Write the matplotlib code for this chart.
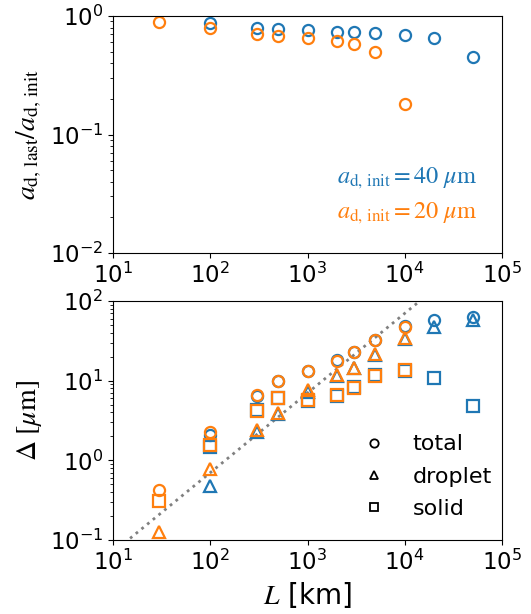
import numpy as np
import matplotlib
matplotlib.use("Agg")
import matplotlib.pyplot as plt
from matplotlib.ticker import NullLocator
from matplotlib.lines import Line2D

plt.rcParams["mathtext.fontset"] = "stix"

# Domain lengths L [km]
L_40 = [100, 300, 500, 1000, 2000, 3000, 5000, 10000, 20000, 50000]
L_20 = [30, 100, 300, 500, 1000, 2000, 3000, 5000, 10000]

# Final / initial droplet radius
ratio_40 = [0.878, 0.80, 0.78, 0.757, 0.737, 0.728, 0.719, 0.695, 0.648, 0.454]
ratio_20 = [0.895, 0.787, 0.71, 0.682, 0.656, 0.619, 0.58, 0.50, 0.182]

# Spread Delta [um]: total, droplet, solid
total_40 = [2.09, 6.5, 9.9, 13.2, 18.2, 22.8, 32.8, 49.0, 57.2, 62.4]
droplet_40 = [0.476, 2.25, 3.8, 7.3, 11.5, 14.3, 21.0, 33.0, 46.7, 57.2]
solid_40 = [1.47, 4.3, 6.1, 5.5, 6.5, 8.3, 11.7, 13.3, 10.9, 4.84]

total_20 = [0.425, 2.26, 6.6, 10.0, 13.3, 17.9, 22.9, 32.4, 47.1]
droplet_20 = [0.125, 0.77, 2.41, 3.98, 7.7, 11.9, 14.6, 21.6, 34.3]
solid_20 = [0.31, 1.56, 4.2, 6.0, 5.75, 6.6, 8.2, 11.3, 13.5]

# Linear reference Delta = k * L
ref_k = 0.007
ref_L = [10, 1e5]

C40 = "#1f77b4"
C20 = "#ff7f0e"
TICK_FS = 16.5
LABEL_FS = 20

fig = plt.figure(figsize=(5.31, 6.14), dpi=100)
ax1 = fig.add_axes([0.2128, 0.5879, 0.7326, 0.3860])
ax2 = fig.add_axes([0.2128, 0.1205, 0.7326, 0.3893])

mk = dict(linestyle="none", markerfacecolor="none", markersize=8, markeredgewidth=1.6)

# Upper panel: radius ratio
ax1.plot(L_40, ratio_40, marker="o", markeredgecolor=C40, **mk)
ax1.plot(L_20, ratio_20, marker="o", markeredgecolor=C20, **mk)
ax1.set_xscale("log")
ax1.set_yscale("log")
ax1.set_xlim(10, 1e5)
ax1.set_ylim(1e-2, 1)
ax1.set_ylabel(r"$a_{\rm d,\,last}/a_{\rm d,\,init}$", fontsize=LABEL_FS)
ax1.text(0.937, 0.295, r"$a_{\rm d,\,init} = 40\ \mu{\rm m}$", color=C40,
         fontsize=17.5, ha="right", va="baseline", transform=ax1.transAxes)
ax1.text(0.937, 0.148, r"$a_{\rm d,\,init} = 20\ \mu{\rm m}$", color=C20,
         fontsize=17.5, ha="right", va="baseline", transform=ax1.transAxes)

# Lower panel: spreads
ax2.plot(ref_L, [ref_k * v for v in ref_L], linestyle=":", color="gray", linewidth=2)
for L, tot, drp, sol, c in [(L_40, total_40, droplet_40, solid_40, C40),
                            (L_20, total_20, droplet_20, solid_20, C20)]:
    ax2.plot(L, tot, marker="o", markeredgecolor=c, **mk)
    ax2.plot(L, drp, marker="^", markeredgecolor=c, **mk)
    ax2.plot(L, sol, marker="s", markeredgecolor=c, **mk)
ax2.set_xscale("log")
ax2.set_yscale("log")
ax2.set_xlim(10, 1e5)
ax2.set_ylim(0.1, 100)
ax2.set_ylabel(r"$\Delta\ [\mu{\rm m}]$", fontsize=LABEL_FS)
ax2.set_xlabel(r"$L$ [km]", fontsize=LABEL_FS)

handles = [Line2D([], [], linestyle="none", marker=m, markerfacecolor="none",
                  markeredgecolor="black", markersize=6, markeredgewidth=1.3)
           for m in ["o", "^", "s"]]
ax2.legend(handles, ["total", "droplet", "solid"], loc="lower right", frameon=False,
           fontsize=16, handletextpad=0.75, labelspacing=0.55,
           bbox_to_anchor=(1.026, 0.005))

for ax in (ax1, ax2):
    ax.xaxis.set_minor_locator(NullLocator())
    ax.tick_params(axis="both", which="major", labelsize=TICK_FS)

fig.savefig("out.png", dpi=100)
